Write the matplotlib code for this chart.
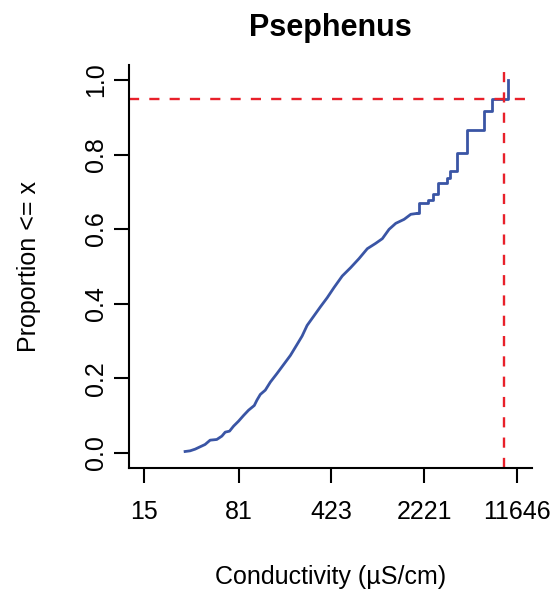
import matplotlib
matplotlib.use("Agg")
import matplotlib.pyplot as plt
import numpy as np

plt.rcParams['font.family'] = ['Liberation Sans', 'DejaVu Sans']

# smooth (dense) part of the ECDF
cond_smooth = [31.1, 34.0, 37.2, 40.6, 44.4, 48.6, 54.7, 59.9, 63.6, 68.7,
               73.8, 80.7, 88.2, 96.5, 106.8, 112.0, 118.9, 130.0, 142.2, 160.2,
               180.5, 203.3, 229.1, 250.5, 274.0, 308.7, 347.8, 391.9, 441.6, 512.5,
               594.9, 690.3, 801.4, 930.1, 1048, 1181, 1331, 1545, 1740, 1961]
prop_smooth = [0.0035, 0.0053, 0.0098, 0.0160, 0.0223, 0.0339, 0.0357, 0.0447, 0.0554, 0.0581,
               0.0715, 0.0849, 0.1001, 0.1144, 0.1269, 0.1413, 0.1565, 0.1681, 0.1896, 0.2128,
               0.2370, 0.2611, 0.2907, 0.3130, 0.3417, 0.3667, 0.3918, 0.4159, 0.4427, 0.4741,
               0.4964, 0.5206, 0.5474, 0.5617, 0.5743, 0.5993, 0.6154, 0.6261, 0.6396, 0.6422]

# sparse upper tail, drawn as steps
cond_steps = [1961, 2021, 2345, 2564, 2804, 3314, 3517, 3939, 4711, 6462, 7413, 9810]
prop_steps = [0.6422, 0.671, 0.678, 0.693, 0.723, 0.738, 0.755, 0.805, 0.866, 0.916, 0.950, 1.0]

x_ticks = [15, 81, 423, 2221, 11646]
y_ticks = [0.0, 0.2, 0.4, 0.6, 0.8, 1.0]
q95_cond = 9106
q95_prop = 0.95

fig = plt.figure(figsize=(5.57, 5.91), dpi=100)
ax = fig.add_axes([0.2321, 0.2086, 0.7236, 0.6814])

blue = '#3a55a5'
red = '#e8202a'
ax.plot(cond_smooth, prop_smooth, color=blue, lw=2.0)
ax.plot(cond_steps, prop_steps, color=blue, lw=2.0, drawstyle='steps-post')

ax.axhline(q95_prop, color=red, lw=1.7, linestyle=(0, (4.3, 4.3)))
ax.axvline(q95_cond, color=red, lw=1.7, linestyle=(0, (4.3, 4.3)))

ax.set_xscale('log')
lo, hi = np.log10(x_ticks[0]), np.log10(x_ticks[-1])
ext = 0.04 * (hi - lo)
ax.set_xlim(10 ** (lo - ext), 10 ** (hi + ext))
ax.set_ylim(-0.04, 1.04)

ax.set_xticks(x_ticks)
ax.set_xticklabels([str(t) for t in x_ticks])
ax.xaxis.set_minor_locator(matplotlib.ticker.NullLocator())
ax.set_yticks(y_ticks)
ax.set_yticklabels(['%.1f' % t for t in y_ticks], rotation=90, va='center')

ax.spines['top'].set_visible(False)
ax.spines['right'].set_visible(False)
for s in ('left', 'bottom'):
    ax.spines[s].set_linewidth(1.5)
ax.tick_params(axis='both', length=11, width=1.5, labelsize=18)
ax.tick_params(axis='x', pad=12)
ax.tick_params(axis='y', pad=4)

ax.set_title('Psephenus', fontsize=22, fontweight='bold', pad=21)
ax.set_xlabel('Conductivity (µS/cm)', fontsize=18, labelpad=30)
ax.set_ylabel('Proportion <= x', fontsize=18, labelpad=31)

fig.savefig('out.png', dpi=100)
